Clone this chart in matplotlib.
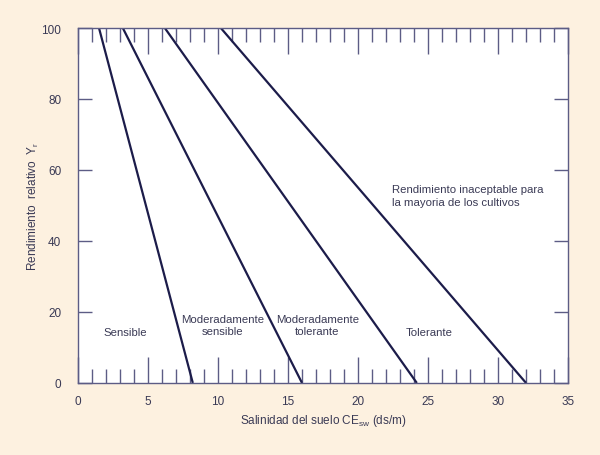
import matplotlib
matplotlib.use("Agg")
import matplotlib.pyplot as plt
from matplotlib.ticker import MultipleLocator

plt.rcParams['font.family'] = ['Liberation Sans', 'DejaVu Sans']

# salinity at 100 % yield and at 0 % yield, per tolerance class
x_top = [1.5, 3.2, 6.2, 10.2]
x_bottom = [8.2, 16.0, 24.2, 32.0]
y_top = 100
y_bottom = 0

class_labels = ["Sensible", "Moderadamente\nsensible", "Moderadamente\ntolerante", "Tolerante"]
label_x = [3.4, 10.3, 17.1, 25.1]
label_y = [14.4, 16.3, 16.3, 14.4]

bg = "#fdf1e0"
axcol = "#5c5c85"
linecol = "#1c1c4a"
txtcol = "#3a3a55"

fig = plt.figure(figsize=(6, 4.56), dpi=100, facecolor=bg)
ax = fig.add_axes([0.13, 0.158, 0.8167, 0.7784])
ax.set_facecolor("white")

for xt, xb in zip(x_top, x_bottom):
    ax.plot([xt, xb], [y_top, y_bottom], color=linecol, lw=1.6, solid_capstyle="butt")

for lab, lx, ly in zip(class_labels, label_x, label_y):
    ax.text(lx, ly, lab, ha="center", va="center", fontsize=8.2, color=txtcol, linespacing=1.35)

ax.text(22.4, 52.7, "Rendimiento inaceptable para\nla mayoria de los cultivos",
        ha="left", va="center", fontsize=8.2, color=txtcol, linespacing=1.35)

ax.set_xlim(0, 35)
ax.set_ylim(0, 100)
ax.xaxis.set_major_locator(MultipleLocator(5))
ax.xaxis.set_minor_locator(MultipleLocator(1))
ax.yaxis.set_major_locator(MultipleLocator(20))

for s in ax.spines.values():
    s.set_color(axcol)
    s.set_linewidth(1.0)

ax.tick_params(axis="x", which="major", direction="in", length=19, width=1, color=axcol,
               top=True, bottom=True, labelsize=8.5, labelcolor=txtcol, pad=9)
ax.tick_params(axis="x", which="minor", direction="in", length=10, width=1, color=axcol,
               top=True, bottom=True)
ax.tick_params(axis="y", which="major", direction="in", length=10, width=1, color=axcol,
               left=True, right=True, labelsize=8.5, labelcolor=txtcol, pad=12)

ax.set_xlabel("Salinidad del suelo CE$_{\\mathregular{sw}}$ (ds/m)", fontsize=8.5, color=txtcol, labelpad=3)
ax.set_ylabel("Rendimiento  relativo  Y$_{\\mathregular{r}}$", fontsize=8.5, color=txtcol, labelpad=0)

fig.savefig("out.png", dpi=100, facecolor=bg)
